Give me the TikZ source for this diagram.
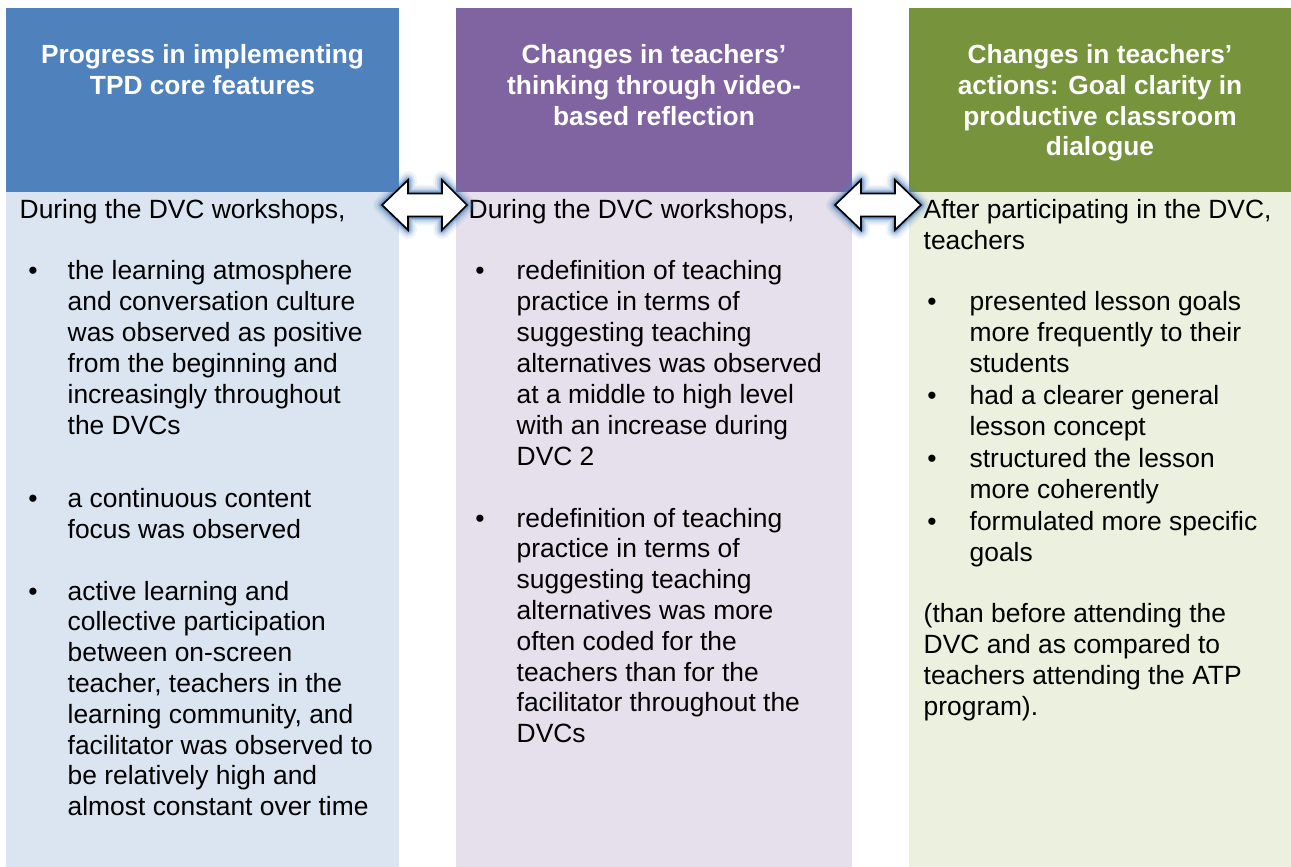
\documentclass[tikz,border=0pt]{standalone}
\usepackage{fontspec}
\setmainfont{Liberation Sans}
\definecolor{hblue}{HTML}{4F81BD}
\definecolor{hpurple}{HTML}{8064A2}
\definecolor{hgreen}{HTML}{77933C}
\definecolor{bblue}{HTML}{DBE5F1}
\definecolor{bpurple}{HTML}{E5E0EC}
\definecolor{bgreen}{HTML}{EBF1DE}
\newcommand\lft[1]{\vtop{\halign{##\hfil\cr#1\crcr}}}
\newcommand\ctr[1]{\vtop{\halign{\hfil##\hfil\cr#1\crcr}}}
\begin{document}
\begin{tikzpicture}[x=1pt,y=-1pt,
  hd/.style={font=\fontsize{26.3}{30.8}\selectfont\bfseries, text=white, anchor=base, inner sep=0pt},
  bd/.style={font=\fontsize{26.4}{31}\selectfont, anchor=base west, inner sep=0pt},
  bdb/.style={bd, font=\fontsize{26.4}{30.8}\selectfont},
  bl/.style={font=\fontsize{26.4}{31}\selectfont, anchor=base, inner sep=0pt},
  blk/.style={fill=white, draw=black, line width=1.7pt, line join=miter},
  glw/.style={draw=hblue, line join=round}
]
\useasboundingbox (0,0) rectangle (1291,867);
% columns
\fill[bblue] (6,192) rectangle (399,867);
\fill[hblue] (6,8) rectangle (399,192);
\fill[bpurple] (456,192) rectangle (852,867);
\fill[hpurple] (456,8) rectangle (852,192);
\fill[bgreen] (909,192) rectangle (1291,867);
\fill[hgreen] (909,8) rectangle (1291,192);
% headers
\node[hd] (h1) at (202.5,63.5) {\ctr{Progress in implementing\cr TPD core features}};
\node[hd] (h2) at (654,63.5) {\ctr{Changes in teachers’\cr thinking through video-\cr based reflection}};
\node[hd] (h3) at (1100,63.5) {\ctr{Changes in teachers’\cr actions: Goal clarity in\cr productive classroom\cr dialogue}};
% column 1
\node[bd] (c1a) at (19.5,218) {During the DVC workshops,};
\node[bl] (b11) at (33,279) {•};
\node[bd] (c1b) at (67.5,279) {\lft{the learning atmosphere\cr and conversation culture\cr was observed as positive\cr from the beginning and\cr increasingly throughout\cr the DVCs}};
\node[bl] (b12) at (33,507) {•};
\node[bd] (c1c) at (67.5,507) {\lft{a continuous content\cr focus was observed}};
\node[bl] (b13) at (33,600) {•};
\node[bdb] (c1d) at (67.5,600) {\lft{active learning and\cr collective participation\cr between on-screen\cr teacher, teachers in the\cr learning community, and\cr facilitator was observed to\cr be relatively high and\cr almost constant over time}};
% column 2
\node[bd] (c2a) at (468.5,218) {During the DVC workshops,};
\node[bl] (b21) at (480,279) {•};
\node[bd] (c2b) at (516.5,279) {\lft{redefinition of teaching\cr practice in terms of\cr suggesting teaching\cr alternatives was observed\cr at a middle to high level\cr with an increase during\cr DVC 2}};
\node[bl] (b22) at (480,527) {•};
\node[bdb] (c2c) at (516.5,527) {\lft{redefinition of teaching\cr practice in terms of\cr suggesting teaching\cr alternatives was more\cr often coded for the\cr teachers than for the\cr facilitator throughout the\cr DVCs}};
% column 3
\node[bd] (c3a) at (923.5,218) {\lft{After participating in the DVC,\cr teachers}};
\node[bl] (b31) at (932,310) {•};
\node[bd] (c3b) at (969.5,310) {\lft{presented lesson goals\cr more frequently to their\cr students}};
\node[bl] (b32) at (932,404) {•};
\node[bd] (c3c) at (969.5,404) {\lft{had a clearer general\cr lesson concept}};
\node[bl] (b33) at (932,467) {•};
\node[bd] (c3d) at (969.5,467) {\lft{structured the lesson\cr more coherently}};
\node[bl] (b34) at (932,530) {•};
\node[bd] (c3e) at (969.5,530) {\lft{formulated more specific\cr goals}};
\node[bd] (c3f) at (923.5,622) {\lft{(than before attending the\cr DVC and as compared to\cr teachers attending the ATP\cr program).}};
% arrows with glow
\foreach \w/\o in {18/0.08, 14/0.12, 10/0.18, 7/0.28, 4.5/0.45} {
  \draw[glw, line width=\w pt, opacity=\o] (382,205) -- (408,180) -- (408,193.5) -- (442,193.5) -- (442,180) -- (467,205) -- (442,230) -- (442,216.5) -- (408,216.5) -- (408,230) -- cycle;
  \draw[glw, line width=\w pt, opacity=\o] (835,205) -- (861,180) -- (861,193.5) -- (895,193.5) -- (895,180) -- (921,205) -- (895,230) -- (895,216.5) -- (861,216.5) -- (861,230) -- cycle;
}
\draw[blk] (382,205) -- (408,180) -- (408,193.5) -- (442,193.5) -- (442,180) -- (467,205) -- (442,230) -- (442,216.5) -- (408,216.5) -- (408,230) -- cycle;
\draw[blk] (835,205) -- (861,180) -- (861,193.5) -- (895,193.5) -- (895,180) -- (921,205) -- (895,230) -- (895,216.5) -- (861,216.5) -- (861,230) -- cycle;
\end{tikzpicture}
\end{document}
